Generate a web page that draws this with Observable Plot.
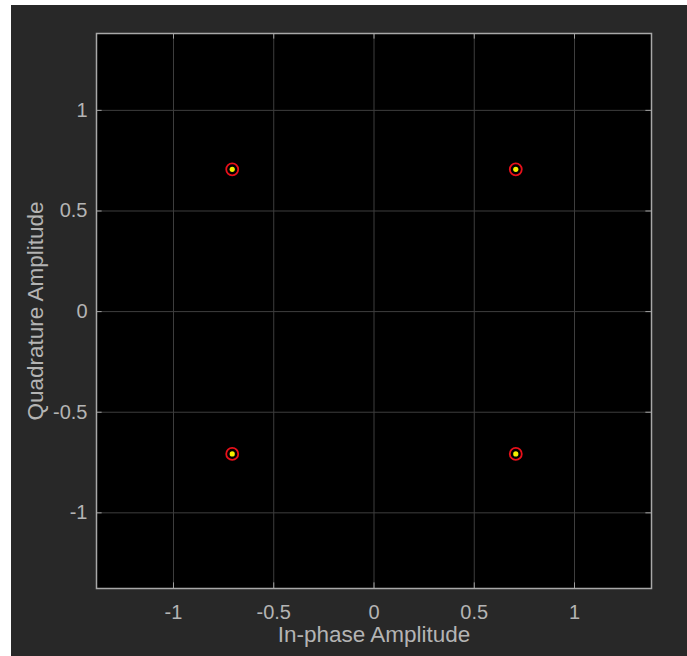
<!DOCTYPE html>
<html>
<head>
<meta charset="utf-8">
<script src="https://cdn.jsdelivr.net/npm/d3@7"></script>
<script src="https://cdn.jsdelivr.net/npm/@observablehq/plot@0.6"></script>
<style>
  html, body { margin: 0; padding: 0; background: #ffffff; }
  #frame { position: absolute; left: 11px; top: 5px; width: 676px; height: 651px; background: #282828; }
  #chart { position: absolute; left: 0; top: 0; }
</style>
</head>
<body>
<div id="frame"></div>
<div id="chart"></div>
<script>
const inPhase = [0.7071, -0.7071, -0.7071, 0.7071];
const quadrature = [0.7071, 0.7071, -0.7071, -0.7071];
const xTicks = [-1, -0.5, 0, 0.5, 1];
const yTicks = [-1, -0.5, 0, 0.5, 1];
const xLabel = "In-phase Amplitude";
const yLabel = "Quadrature Amplitude";

const points = inPhase.map((x, i) => ({x, y: quadrature[i]}));
const fmt = d => String(d);
const X0 = -1.384, X1 = 1.384, Y0 = -1.376, Y1 = 1.382;

const plot = Plot.plot({
  width: 687,
  height: 656,
  marginLeft: 96,
  marginRight: 36,
  marginTop: 33,
  marginBottom: 68,
  style: { background: "transparent", color: "#b4b4b4", fontFamily: "'Liberation Sans', Arial, sans-serif", fontSize: "18px" },
  x: { domain: [X0, X1], label: null },
  y: { domain: [Y0, Y1], label: null },
  marks: [
    Plot.frame({ fill: "black" }),
    Plot.ruleX(xTicks, { x: d => d, stroke: "#3e3e3e", strokeWidth: 1 }),
    Plot.ruleY(yTicks, { y: d => d, stroke: "#3e3e3e", strokeWidth: 1 }),
    Plot.axisX(xTicks, { anchor: "bottom", tickSize: 0, tickPadding: 16, fontSize: 20, fill: "#b4b4b4", tickFormat: fmt, label: null }),
    Plot.axisY(yTicks, { anchor: "left", tickSize: 0, tickPadding: 9, fontSize: 20, fill: "#b4b4b4", tickFormat: fmt, label: null }),
    Plot.ruleX(xTicks, { x: d => d, y1: Y0, y2: Y0 + 0.028, stroke: "#a0a0a0" }),
    Plot.ruleX(xTicks, { x: d => d, y1: Y1, y2: Y1 - 0.028, stroke: "#a0a0a0" }),
    Plot.ruleY(yTicks, { y: d => d, x1: X0, x2: X0 + 0.028, stroke: "#a0a0a0" }),
    Plot.ruleY(yTicks, { y: d => d, x1: X1, x2: X1 - 0.028, stroke: "#a0a0a0" }),
    Plot.frame({ stroke: "#a8a8a8", strokeWidth: 1.5 }),
    Plot.dot(points, { x: "x", y: "y", r: 6, stroke: "#e8101a", strokeWidth: 1.8, fill: "none" }),
    Plot.dot(points, { x: "x", y: "y", r: 2.6, fill: "#f4f000", stroke: "none" }),
    Plot.text([xLabel], { frameAnchor: "bottom", dy: 53, text: d => d, fontSize: 22.5, fill: "#b4b4b4" }),
    Plot.text([yLabel], { frameAnchor: "left", dx: -61, rotate: -90, textAnchor: "middle", text: d => d, fontSize: 22.5, fill: "#b4b4b4" })
  ]
});
document.getElementById("chart").append(plot);
</script>
</body>
</html>
